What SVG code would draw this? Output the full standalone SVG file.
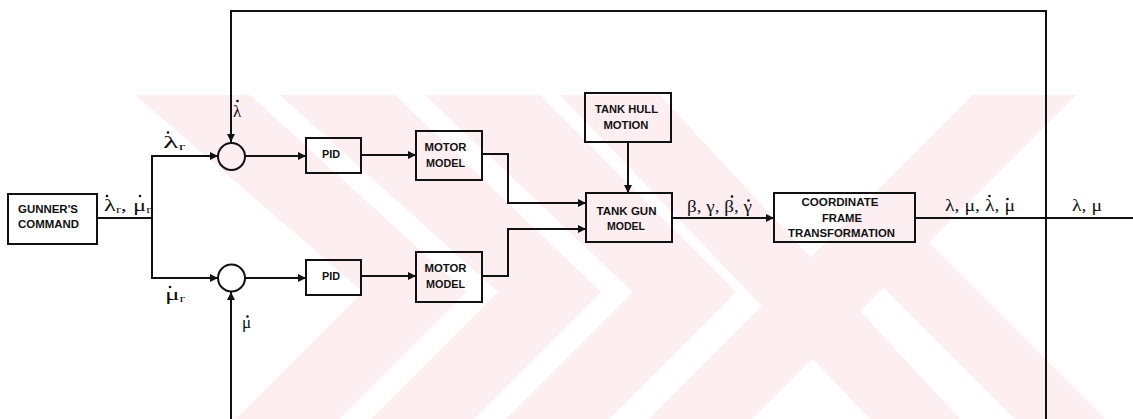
<svg xmlns="http://www.w3.org/2000/svg" width="1133" height="419" viewBox="0 0 1133 419">
<style>
.box{fill:none;stroke:#111;stroke-width:2}
.ln{fill:none;stroke:#111;stroke-width:2}
.lbl{font-family:"Liberation Sans",Arial,sans-serif;font-weight:bold;font-size:10px;fill:#111;text-anchor:middle}
.gk{font-family:"Liberation Serif","Times New Roman",serif;font-size:17px;fill:#111}
.sub{font-size:10px}
.dot{fill:#111}
.wm{fill:#fdeef1}
</style>
<defs>
<marker id="ah" viewBox="0 0 10 10" refX="10" refY="5" markerWidth="9" markerHeight="8" markerUnits="userSpaceOnUse" orient="auto">
<path d="M0,0 L10,5 L0,10 z" fill="#111"/>
</marker>
</defs>
<rect width="1133" height="419" fill="#fff"/>
<g id="watermark">
<polygon class="wm" points="135,95 250,95 466,292 339,419 236,419 363,292"/>
<polygon class="wm" points="280,95 395,95 601,292 474,419 371,419 498,292"/>
<polygon class="wm" points="425,95 540,95 736,292 609,419 506,419 633,292"/>
<polygon class="wm" points="973,95 1076,95 752,419 649,419"/>
<polygon class="wm" points="560,95 660,95 960,419 870,419"/>
<polygon class="wm" points="836,240 926,240 1105,419 1015,419"/>
</g>
<g id="connectors">
<polyline class="ln" points="1046,419 1046,11 231,11 231,142" marker-end="url(#ah)"/>
<polyline class="ln" points="231,419 231,292" marker-end="url(#ah)"/>
<polyline class="ln" points="97,218 152,218"/>
<polyline class="ln" points="152,218 152,156 218,156" marker-end="url(#ah)"/>
<polyline class="ln" points="152,218 152,278 218,278" marker-end="url(#ah)"/>
<line class="ln" x1="245" y1="156" x2="306" y2="156" marker-end="url(#ah)"/>
<line class="ln" x1="245" y1="278" x2="306" y2="278" marker-end="url(#ah)"/>
<line class="ln" x1="361" y1="155" x2="416" y2="155" marker-end="url(#ah)"/>
<line class="ln" x1="361" y1="276" x2="416" y2="276" marker-end="url(#ah)"/>
<polyline class="ln" points="482,154 508,154 508,203 586,203" marker-end="url(#ah)"/>
<polyline class="ln" points="482,276 508,276 508,229 586,229" marker-end="url(#ah)"/>
<line class="ln" x1="628" y1="142" x2="628" y2="193" marker-end="url(#ah)"/>
<line class="ln" x1="672" y1="218" x2="774" y2="218" marker-end="url(#ah)"/>
<line class="ln" x1="915" y1="218" x2="1133" y2="218"/>
</g>
<g id="gunners-command">
<rect class="box" x="8" y="194" width="89" height="50"/>
<text class="lbl" x="48" y="213" textLength="60" lengthAdjust="spacingAndGlyphs">GUNNER'S</text>
<text class="lbl" x="48.5" y="228" textLength="61" lengthAdjust="spacingAndGlyphs">COMMAND</text>
</g>
<g id="sum-top"><circle class="box" cx="231.5" cy="156.5" r="13.5"/></g>
<g id="sum-bottom"><circle class="box" cx="231.5" cy="278" r="13.5"/></g>
<g id="pid-top">
<rect class="box" x="306" y="138" width="55" height="35"/>
<text class="lbl" x="331" y="158" textLength="18" lengthAdjust="spacingAndGlyphs">PID</text>
</g>
<g id="pid-bottom">
<rect class="box" x="306" y="260" width="55" height="35"/>
<text class="lbl" x="331" y="280" textLength="18" lengthAdjust="spacingAndGlyphs">PID</text>
</g>
<g id="motor-top">
<rect class="box" x="416" y="131" width="66" height="49"/>
<text class="lbl" x="445.5" y="150.5" textLength="42" lengthAdjust="spacingAndGlyphs">MOTOR</text>
<text class="lbl" x="445.5" y="166.5" textLength="39" lengthAdjust="spacingAndGlyphs">MODEL</text>
</g>
<g id="motor-bottom">
<rect class="box" x="416" y="252" width="66" height="50"/>
<text class="lbl" x="445.5" y="271.5" textLength="42" lengthAdjust="spacingAndGlyphs">MOTOR</text>
<text class="lbl" x="445.5" y="288" textLength="39" lengthAdjust="spacingAndGlyphs">MODEL</text>
</g>
<g id="tank-hull-motion">
<rect class="box" x="585" y="93" width="86" height="49"/>
<text class="lbl" x="626.5" y="113" textLength="63" lengthAdjust="spacingAndGlyphs">TANK HULL</text>
<text class="lbl" x="626" y="129" textLength="45" lengthAdjust="spacingAndGlyphs">MOTION</text>
</g>
<g id="tank-gun-model">
<rect class="box" x="586" y="193" width="86" height="49"/>
<text class="lbl" x="626.5" y="215" textLength="60" lengthAdjust="spacingAndGlyphs">TANK GUN</text>
<text class="lbl" x="626" y="230" textLength="38" lengthAdjust="spacingAndGlyphs">MODEL</text>
</g>
<g id="coordinate-frame-transformation">
<rect class="box" x="774" y="193" width="141" height="49"/>
<text class="lbl" x="840" y="206" textLength="77" lengthAdjust="spacingAndGlyphs">COORDINATE</text>
<text class="lbl" x="842" y="221.5" textLength="40" lengthAdjust="spacingAndGlyphs">FRAME</text>
<text class="lbl" x="841.5" y="237" textLength="107" lengthAdjust="spacingAndGlyphs">TRANSFORMATION</text>
</g>
<g id="labels">
<text class="gk" x="104" y="211" textLength="47" lengthAdjust="spacingAndGlyphs">λ<tspan class="sub" dy="2">r</tspan><tspan dy="-2">, μ</tspan><tspan class="sub" dy="2">r</tspan></text>
<circle class="dot" cx="107" cy="196" r="1.3"/><circle class="dot" cx="140" cy="196" r="1.3"/>
<text class="gk" x="163" y="148" textLength="22" lengthAdjust="spacingAndGlyphs">λ<tspan class="sub" dy="2">r</tspan></text>
<circle class="dot" cx="168" cy="132.5" r="1.3"/>
<text class="gk" x="165" y="300" textLength="20" lengthAdjust="spacingAndGlyphs">μ<tspan class="sub" dy="2">r</tspan></text>
<circle class="dot" cx="170" cy="287" r="1.3"/>
<text class="gk" x="233" y="116.5">λ</text>
<circle class="dot" cx="237.5" cy="101" r="1.3"/>
<text class="gk" x="242" y="328">μ</text>
<circle class="dot" cx="247.5" cy="316.5" r="1.3"/>
<text class="gk" x="687" y="212" textLength="65" lengthAdjust="spacingAndGlyphs">β, γ, β, γ</text>
<circle class="dot" cx="732" cy="196.5" r="1.3"/><circle class="dot" cx="748.5" cy="200.5" r="1.3"/>
<text class="gk" x="945" y="211" textLength="70" lengthAdjust="spacingAndGlyphs">λ, μ, λ, μ</text>
<circle class="dot" cx="989.5" cy="196" r="1.3"/><circle class="dot" cx="1007.5" cy="199" r="1.3"/>
<text class="gk" x="1072" y="211" textLength="30" lengthAdjust="spacingAndGlyphs">λ, μ</text>
</g>
</svg>
